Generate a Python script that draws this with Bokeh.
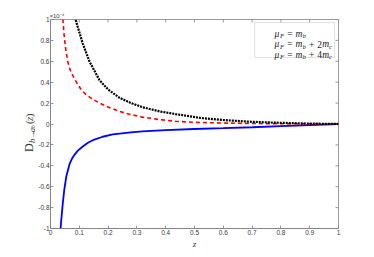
import math
from bokeh.plotting import figure
from bokeh.models import FixedTicker, Label, BoxAnnotation
from bokeh.layouts import row
from bokeh.core.properties import value
from bokeh.embed import file_html
from bokeh.resources import INLINE

# ---------------- data (values in units of 1e-4) ----------------
z_blue = [0.033, 0.035, 0.038, 0.043, 0.048, 0.055, 0.066, 0.075, 0.083, 0.095, 0.112, 0.130,
          0.147, 0.181, 0.216, 0.279, 0.319, 0.400, 0.500, 0.600, 0.700, 0.800, 0.900, 1.000]
d_blue = [-1.07, -1.00, -0.90, -0.75, -0.625, -0.50, -0.385, -0.33, -0.295, -0.255, -0.215, -0.18,
          -0.155, -0.122, -0.100, -0.080, -0.070, -0.058, -0.048, -0.040, -0.031, -0.020, -0.010, 0.0]

z_red = [0.041, 0.043, 0.047, 0.052, 0.060, 0.068, 0.078, 0.090, 0.105, 0.124, 0.145, 0.170,
         0.204, 0.240, 0.279, 0.319, 0.380, 0.434, 0.500, 0.600, 0.700, 0.800, 0.900, 1.000]
d_red = [1.07, 1.00, 0.86, 0.73, 0.595, 0.52, 0.46, 0.40, 0.335, 0.28, 0.24, 0.20,
         0.157, 0.12, 0.09, 0.066, 0.042, 0.026, 0.016, 0.009, 0.005, 0.003, 0.001, 0.0]

z_black = [0.082, 0.087, 0.095, 0.112, 0.135, 0.170, 0.200, 0.240, 0.280, 0.320, 0.380, 0.434,
           0.520, 0.600, 0.700, 0.800, 0.900, 1.000]
d_black = [1.05, 1.00, 0.925, 0.77, 0.60, 0.42, 0.33, 0.25, 0.20, 0.16, 0.12, 0.095,
           0.058, 0.038, 0.021, 0.011, 0.004, 0.0]

x_ticks = [0, 0.1, 0.2, 0.3, 0.4, 0.5, 0.6, 0.7, 0.8, 0.9, 1]
x_tick_labels = ["0", "0.1", "0.2", "0.3", "0.4", "0.5", "0.6", "0.7", "0.8", "0.9", "1"]
y_ticks = [-1, -0.8, -0.6, -0.4, -0.2, 0, 0.2, 0.4, 0.6, 0.8, 1]
y_tick_labels = ["-1", "-0.8", "-0.6", "-0.4", "-0.2", "0", "0.2", "0.4", "0.6", "0.8", "1"]

# ---------------- layout constants ----------------
TOTAL_W, TOTAL_H = 374, 257
LW = 35                      # width of the y-label strip
W, H = TOTAL_W - LW, TOTAL_H
BL, BT = 13, 19
FW, FH = 290, 209
BR, BB = W - BL - FW, H - BT - FH
X0, X1, Y0, Y1 = 0.0, 1.0, -1.0, 1.0
AX = "#808080"
TXT = "#3a3a3a"
TICK = 3

def px_x(px):  # px from frame left -> data
    return X0 + px / FW * (X1 - X0)

def px_y(py):  # px from frame top -> data
    return Y1 - py / FH * (Y1 - Y0)

p = figure(width=W, height=H, x_range=(X0, X1), y_range=(Y0, Y1),
           output_backend="svg", toolbar_location=None,
           min_border_left=BL, min_border_right=BR, min_border_top=BT, min_border_bottom=BB)
p.grid.visible = False
p.outline_line_color = AX
p.outline_line_width = 0.8

def style_axis(ax, ticks, labels):
    ax.ticker = FixedTicker(ticks=ticks)
    ax.major_label_overrides = {t: l for t, l in zip(ticks, labels)}
    ax.major_tick_in = TICK
    ax.major_tick_out = 0
    ax.minor_tick_line_color = None
    ax.major_tick_line_color = AX
    ax.major_tick_line_width = 0.8
    ax.axis_line_color = AX
    ax.axis_line_width = 0.8
    ax.major_label_text_font = "Liberation Sans"
    ax.major_label_text_color = TXT
    ax.major_label_text_font_size = "6.5px"

style_axis(p.xaxis[0], x_ticks, x_tick_labels)
style_axis(p.yaxis[0], y_ticks, y_tick_labels)
p.xaxis.major_label_standoff = 1
p.yaxis.major_label_standoff = 1
p.xaxis.axis_label = "z"
p.xaxis.axis_label_text_font = "Liberation Serif"
p.xaxis.axis_label_text_font_style = "italic"
p.xaxis.axis_label_text_font_size = "9px"
p.xaxis.axis_label_text_color = TXT
p.xaxis.axis_label_standoff = 1

# top / right inward ticks (mirror of the axis ticks)
dy_t = TICK / FH * (Y1 - Y0)
dx_t = TICK / FW * (X1 - X0)
p.segment(x0=x_ticks, y0=[Y1] * len(x_ticks), x1=x_ticks, y1=[Y1 - dy_t] * len(x_ticks),
          line_color=AX, line_width=0.8)
p.segment(x0=[X1] * len(y_ticks), y0=y_ticks, x1=[X1 - dx_t] * len(y_ticks), y1=y_ticks,
          line_color=AX, line_width=0.8)

# exponent note
p.title.text = "×10⁻⁴"
p.title.align = "left"
p.title.text_font = "Liberation Sans"
p.title.text_font_size = "6px"
p.title.text_font_style = "normal"
p.title.text_color = TXT
p.title.standoff = 1
p.title.offset = -1

# ---------------- curves ----------------
styles = [dict(line_color="#0000ff", line_width=1.8),
          dict(line_color="#ff0000", line_width=1.6, line_dash="4 3"),
          dict(line_color="#000000", line_width=2.2, line_dash="2 1")]
for zs, ds, st in zip([z_blue, z_red, z_black], [d_blue, d_red, d_black], styles):
    p.line(zs, ds, **st)

# ---------------- legend (manual, with sub-scripts) ----------------
p.add_layout(BoxAnnotation(left=px_x(205.5), right=px_x(286), top=px_y(3), bottom=px_y(38),
                           fill_color="white", fill_alpha=1.0,
                           line_color=AX, line_width=0.8, level="overlay"))

rows_base = [14.0, 24.7, 35.3]   # px from frame top, baselines
rows_mid = [11.3, 22.2, 32.8]
seg_x0, seg_x1 = px_x(207.5), px_x(224)
text_x = px_x(225.5)
for mid, st in zip(rows_mid, styles):
    p.segment(x0=[seg_x0], y0=[px_y(mid)], x1=[seg_x1], y1=[px_y(mid)], level="overlay", **st)

S = 9.5
SS = 6.8
# (text, size, gap px before, width px, baseline shift px (down), italic)
base_pieces = [("μ", S, 0, 5.5, 0, True), ("F", SS, 0, 4.2, 2, True),
               ("=", S, 3, 5.4, 0, False), ("m", S, 3, 6.9, 0, True), ("b", SS, 0, 3.5, 2, True)]
rows_pieces = [
    base_pieces,
    base_pieces + [("+", S, 3, 5.4, 0, False), ("2", S, 3, 4.8, 0, False),
                   ("m", S, 0, 6.9, 0, True), ("c", SS, 0, 3.0, 2, True)],
    base_pieces + [("+", S, 3, 5.4, 0, False), ("4", S, 3, 4.8, 0, False),
                   ("m", S, 0, 6.9, 0, True), ("c", SS, 0, 3.0, 2, True)],
]
for rb, pieces in zip(rows_base, rows_pieces):
    off = 0.0
    for txt, size, gap, wid, shift, ital in pieces:
        off += gap
        p.add_layout(Label(x=text_x, y=px_y(rb + shift), x_offset=off, text=txt,
                           text_font="Liberation Serif",
                           text_font_style="italic" if ital else "normal",
                           text_font_size=f"{size}px", text_color="#1a1a1a",
                           text_align="left", text_baseline="alphabetic", level="overlay"))
        off += wid

# ---------------- y label strip ----------------
q = figure(width=LW, height=H, x_range=(0, LW), y_range=(0, H),
           output_backend="svg", toolbar_location=None,
           x_axis_location=None, y_axis_location=None, min_border=0)
q.grid.visible = False
q.outline_line_color = None
# (text, start px from top, baseline x px, size, style)
ylab = [("D", 163, 28.5, 12, "normal"),
        ("b", 152, 31.0, 8.5, "italic"),
        ("→", 147.3, 31.0, 8.5, "normal"),
        ("q", 138.5, 31.0, 8.5, "italic"),
        ("b", 133.8, 32.3, 6, "italic"),
        ("(", 128.5, 28.5, 11, "normal"),
        ("z", 124.8, 28.5, 11, "italic"),
        (")", 120.3, 28.5, 11, "normal")]
for txt, ys, xb, size, style in ylab:
    q.text(x=[xb], y=[H - ys], text=[txt], angle=math.pi / 2,
           text_font=value("Liberation Serif"), text_font_style=style,
           text_font_size=value(f"{size}px"), text_color=TXT,
           text_align="left", text_baseline="alphabetic")

layout = row(q, p, spacing=0)
open("out.html", "w").write(file_html(layout, INLINE))
